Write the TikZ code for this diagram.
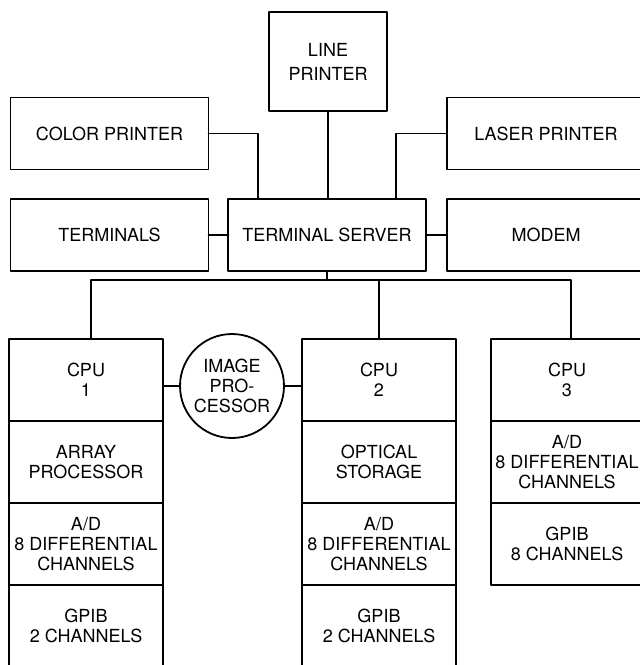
\documentclass[tikz,border=0pt]{standalone}
\usepackage{fontspec}
\setmainfont{TeX Gyre Heros}
\usetikzlibrary{positioning, calc}

\begin{document}
\begin{tikzpicture}[
    x=1pt, y=-1pt,
    line cap=round,
    line join=round,
    every node/.style={font=\fontsize{18}{20}\selectfont},
    unit/.style={draw, line width=1.8pt, inner sep=0pt, outer sep=0pt, align=center},
    periph/.style={unit, minimum width=198pt, minimum height=72pt},
    cell/.style={unit, minimum width=#1, minimum height=82pt},
    cell/.default=154pt,
    link/.style={line width=1.8pt},
]

% ── Page frame (reference proportions) ──────────────────────────────────────
\useasboundingbox (0,0) rectangle (640,665);

% ── Terminal server and peripherals ─────────────────────────────────────────
\node[unit, minimum width=118pt, minimum height=99pt,
      font=\fontsize{18}{24}\selectfont] (lprn) at (328,61.5) {LINE\\PRINTER};
\node[periph] (cprn)  at (109.5,133.5) {COLOR PRINTER};
\node[periph] (lsrp)  at (546,133.5)   {LASER PRINTER};
\node[periph] (term)  at (109.5,235)   {TERMINALS};
\node[periph] (tsrv)  at (327,235)     {TERMINAL SERVER};
\node[periph] (modem) at (546,235)     {MODEM};

% drops onto the top of the terminal server
\coordinate (tsL) at ($(tsrv.north west)!0.15!(tsrv.north east)$);
\coordinate (tsR) at ($(tsrv.north west)!0.85!(tsrv.north east)$);

\draw[link] (cprn.east) -| (tsL);
\draw[link] (lsrp.west) -| (tsR);
\draw[link] (lprn.south) -- (lprn.south |- tsrv.north);
\draw[link] (term) -- (tsrv);
\draw[link] (tsrv) -- (modem);

% ── CPU 1 column ────────────────────────────────────────────────────────────
\node[cell] (cpuA) at (86,380) {CPU\\1};
\node[cell, below=0pt of cpuA] (arrA) {ARRAY\\PROCESSOR};
\node[cell, below=0pt of arrA] (adA)  {A/D\\8 DIFFERENTIAL\\CHANNELS};
\node[cell, below=0pt of adA]  (gpA)  {GPIB\\2 CHANNELS};

% ── CPU 2 column ────────────────────────────────────────────────────────────
\node[cell] (cpuB) at (379,380) {CPU\\2};
\node[cell, below=0pt of cpuB] (optB) {OPTICAL\\STORAGE};
\node[cell, below=0pt of optB] (adB)  {A/D\\8 DIFFERENTIAL\\CHANNELS};
\node[cell, below=0pt of adB]  (gpB)  {GPIB\\2 CHANNELS};

% ── CPU 3 column (runs off the right edge) ──────────────────────────────────
\node[cell=152pt] (cpuC) at (567,380) {CPU\\3};
\node[cell=152pt, below=0pt of cpuC] (adC) {A/D\\8 DIFFERENTIAL\\CHANNELS};
\node[cell=152pt, below=0pt of adC]  (gpC) {GPIB\\8 CHANNELS};

% ── Image processor between CPU 1 and CPU 2 ─────────────────────────────────
\node[unit, circle, minimum size=104pt] (imgp) at (232,386) {IMAGE\\PRO-\\CESSOR};
\draw[link] (imgp.west) -- (imgp.west -| cpuA.east);
\draw[link] (imgp.east) -- (imgp.east -| cpuB.west);

% ── Bus from terminal server to the CPUs ────────────────────────────────────
\coordinate (bus) at (327,280);
\draw[link] (tsrv.south) -- (bus);
\draw[link] ($(cpuA.north)+(5,0)$) |- (bus) -| ($(cpuC.north)+(4,0)$);
\draw[link] (cpuB.north) -- (cpuB.north |- bus);

\end{tikzpicture}
\end{document}
